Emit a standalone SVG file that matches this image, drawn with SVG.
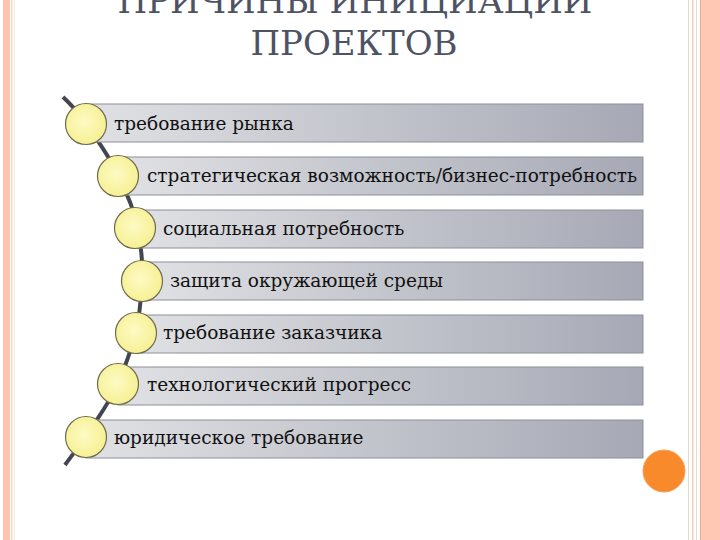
<svg xmlns="http://www.w3.org/2000/svg" width="720" height="540" viewBox="0 0 720 540">
<defs>
<linearGradient id="barg" x1="0" y1="0" x2="1" y2="0">
<stop offset="0" stop-color="#e0e1e4"/>
<stop offset="1" stop-color="#a6a9b5"/>
</linearGradient>
<radialGradient id="circg" cx="0.45" cy="0.45" r="0.6">
<stop offset="0" stop-color="#fdfbc4"/>
<stop offset="1" stop-color="#f6ef8f"/>
</radialGradient>
<style>
.bar{fill:url(#barg);stroke:#8d909a;stroke-width:1}
.circ{fill:url(#circg);stroke:#6f6c4e;stroke-width:1.2}
.lbl{font-family:"DejaVu Serif",serif;font-size:18.5px;fill:#111}
.title{font-family:"DejaVu Serif",serif;font-size:34px;fill:#4e5364;text-anchor:middle}
</style>
</defs>
<rect width="720" height="540" fill="#fff"/>
<!-- borders -->
<rect x="3" y="0" width="7" height="540" fill="#ffc4ae"/>
<rect x="11" y="0" width="1.5" height="540" fill="#f3d9cf"/>
<rect x="14" y="0" width="1" height="540" fill="#f6f0d8"/>
<rect x="688" y="0" width="1" height="540" fill="#ead6cc"/>
<rect x="692" y="0" width="1.5" height="540" fill="#e9cfc2"/>
<rect x="696" y="0" width="1" height="540" fill="#efd9cf"/>
<rect x="700" y="0" width="1.5" height="540" fill="#f0a487"/>
<rect x="702" y="0" width="18" height="540" fill="#ffc8b4"/>
<!-- title -->
<text class="title" x="355" y="13">ПРИЧИНЫ ИНИЦИАЦИИ</text>
<text class="title" x="354" y="55">ПРОЕКТОВ</text>
<!-- connectors -->
<g id="connectors">
<path d="M63,97 C75,108 82,118 86,123 C100,145 112,160 118,176 C128,195 134,210 138,228 C141,245 143,262 142,280 C141,298 140,315 136,332 C131,350 125,367 118,384 C108,405 96,420 86,437 C78,448 72,455 65,465" fill="none" stroke="#434650" stroke-width="4"/>
</g>
<g id="n1">
<rect class="bar" x="86" y="104" width="557" height="38"/>
<circle class="circ" cx="86" cy="124" r="20.5"/>
<text class="lbl" x="114" y="130">требование рынка</text>
</g>
<g id="n2">
<rect class="bar" x="118" y="157" width="525" height="38"/>
<circle class="circ" cx="118" cy="176" r="20.5"/>
<text class="lbl" x="147" y="182">стратегическая возможность/бизнес-потребность</text>
</g>
<g id="n3">
<rect class="bar" x="136" y="210" width="507" height="38"/>
<circle class="circ" cx="135" cy="228" r="20.5"/>
<text class="lbl" x="163" y="235">социальная потребность</text>
</g>
<g id="n4">
<rect class="bar" x="142" y="262" width="501" height="38"/>
<circle class="circ" cx="142" cy="281" r="20.5"/>
<text class="lbl" x="170" y="287">защита окружающей среды</text>
</g>
<g id="n5">
<rect class="bar" x="136" y="315" width="507" height="38"/>
<circle class="circ" cx="136" cy="333" r="20.5"/>
<text class="lbl" x="163" y="339">требование заказчика</text>
</g>
<g id="n6">
<rect class="bar" x="118" y="367" width="525" height="38"/>
<circle class="circ" cx="118" cy="384" r="20.5"/>
<text class="lbl" x="147" y="391">технологический прогресс</text>
</g>
<g id="n7">
<rect class="bar" x="86" y="420" width="557" height="38"/>
<circle class="circ" cx="86" cy="437" r="20.5"/>
<text class="lbl" x="114" y="444">юридическое требование</text>
</g>
<g id="dot">
<circle cx="664" cy="471" r="21" fill="#f98a2c" stroke="#f4a060" stroke-width="1"/>
</g>
</svg>
